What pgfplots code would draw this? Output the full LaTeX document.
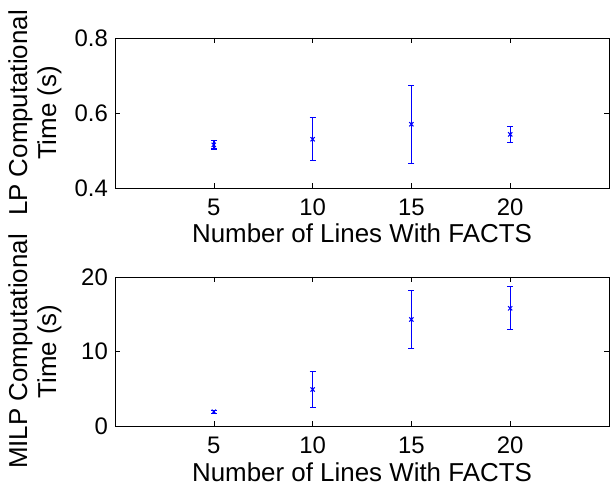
\documentclass[border=0pt]{standalone}
\usepackage{pgfplots}
\pgfplotsset{compat=1.18}
\usepackage{fontspec}
\setmainfont{Liberation Sans}

% mean and half-range of the computational time
\pgfplotstableread{
n  t      e
5  0.515  0.011
10 0.530  0.057
15 0.570  0.104
20 0.543  0.022
}\lptime
\pgfplotstableread{
n  t      e
5  1.92   0.20
10 4.90   2.40
15 14.3   3.90
20 15.8   2.90
}\milptime

\definecolor{matblue}{RGB}{0,0,255}

\pgfplotsset{
  matfig/.style={
    scale only axis, width=494bp,
    xmin=0, xmax=25, xtick={5,10,15,20},
    tick align=inside, major tick length=5bp,
    every tick/.style={black, line width=0.6bp},
    axis line style={line width=0.8bp},
    font=\fontsize{24}{28}\selectfont,
    /pgf/number format/assume math mode=true,
    x tick label style={anchor=north, inner sep=0pt, yshift=-11bp},
    y tick label style={anchor=east, inner sep=0pt, xshift=-7bp},
    xlabel={Number of Lines With FACTS},
    xlabel style={anchor=base, font=\fontsize{26}{29}\selectfont},
    ylabel style={align=center, anchor=south, font=\fontsize{26}{29}\selectfont,
      at={(axis description cs:-0.1012,0.5)}},
  },
  errpts/.style={
    color=matblue, line width=1.2bp, only marks, mark=x, mark size=3bp,
    mark options={color=matblue, line width=1bp},
    error bars/.cd, y dir=both, y explicit,
    error bar style={color=matblue, line width=1.4bp},
    error mark options={rotate=90, mark size=3bp, line width=1.2bp, color=matblue},
  },
}

\begin{document}
\begin{tikzpicture}[x=1bp,y=1bp]
\path[use as bounding box] (0,0) rectangle (610,487);
\begin{axis}[matfig, at={(115bp,299bp)}, anchor=south west, height=150bp,
  ymin=0.4, ymax=0.8, ytick={0.4,0.6,0.8},
  yticklabel style={/pgf/number format/fixed, /pgf/number format/fixed zerofill, /pgf/number format/precision=1},
  xlabel style={at={(axis description cs:0.5,-0.3667)}},
  ylabel={LP Computational\\Time (s)}]
\addplot[errpts] table[x=n, y=t, y error=e] {\lptime};
\end{axis}
\begin{axis}[matfig, at={(115bp,61bp)}, anchor=south west, height=149bp,
  ymin=0, ymax=20, ytick={0,10,20},
  xlabel style={at={(axis description cs:0.5,-0.3758)}},
  ylabel={MILP Computational\\Time (s)}]
\addplot[errpts] table[x=n, y=t, y error=e] {\milptime};
\end{axis}
\end{tikzpicture}
\end{document}
